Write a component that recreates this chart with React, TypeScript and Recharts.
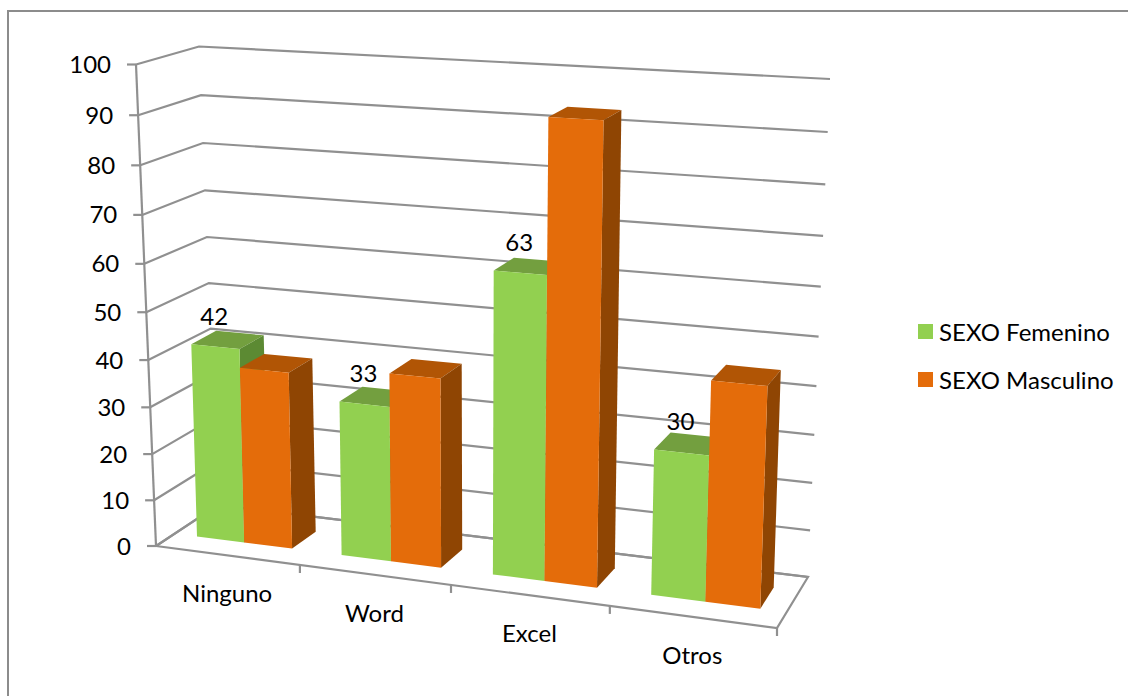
import React from "react";
import { BarChart, Bar, XAxis, YAxis, CartesianGrid, Legend, LabelList } from "recharts";

const categories = ["Ninguno", "Word", "Excel", "Otros"];
const femenino = [42, 33, 63, 30];
const masculino = [38, 40, 94, 45];
const yTicks = [0, 10, 20, 30, 40, 50, 60, 70, 80, 90, 100];
const seriesNames = ["SEXO Femenino", "SEXO Masculino"];

const data = categories.map((name, i) => ({ name, fem: femenino[i], mas: masculino[i] }));

const WIDTH = 1128;
const HEIGHT = 696;
const AXIS_W = 60;
const AXIS_H = 40;
const margin = { left: 76, right: 328, top: 64, bottom: 110 };
const PL = margin.left + AXIS_W;
const PT = margin.top;
const PW = WIDTH - margin.left - margin.right - AXIS_W;
const PH = HEIGHT - margin.top - margin.bottom - AXIS_H;

type Pt = [number, number];

// Projective map of the unit square onto a quad: (0,0) (1,0) (1,1) (0,1)
function plane(p0: Pt, p1: Pt, p2: Pt, p3: Pt) {
  const dx1 = p1[0] - p2[0], dx2 = p3[0] - p2[0], sx = p0[0] - p1[0] + p2[0] - p3[0];
  const dy1 = p1[1] - p2[1], dy2 = p3[1] - p2[1], sy = p0[1] - p1[1] + p2[1] - p3[1];
  const den = dx1 * dy2 - dx2 * dy1;
  const g = (sx * dy2 - dx2 * sy) / den;
  const h = (dx1 * sy - sx * dy1) / den;
  const a = p1[0] - p0[0] + g * p1[0], b = p3[0] - p0[0] + h * p3[0], c = p0[0];
  const d = p1[1] - p0[1] + g * p1[1], e = p3[1] - p0[1] + h * p3[1], f = p0[1];
  return (u: number, v: number): Pt => {
    const w = g * u + h * v + 1;
    return [(a * u + b * v + c) / w, (d * u + e * v + f) / w];
  };
}

const frontWall = plane([156, 546], [777, 628], [796, 98], [136, 64.5]);
const backWall = plane([218, 505], [808, 577], [830, 79], [199, 46.5]);
const barFront = plane([173.5, 533.4], [789, 612.5], [807, 100], [158.4, 64]);
const barBack = plane([198.5, 517.4], [801.5, 591], [819.5, 90.5], [183.4, 54]);

const toU = (x: number) => (x - PL) / PW;
const toV = (y: number) => (PT + PH - y) / PH;
const pts = (list: Pt[]) => list.map((p) => `${p[0].toFixed(1)},${p[1].toFixed(1)}`).join(" ");

const GRID = "#909090";
const LINE = 2.2;
const FONT = "Lato, Carlito, sans-serif";
const FONT_SIZE = 24;

function GridLine(props: any) {
  const v = toV(props.y1);
  const isFloor = Math.abs(v) < 0.001;
  return (
    <g key={props.key}>
      {isFloor && (
        <polygon
          points={pts([frontWall(0, 0), frontWall(1, 0), backWall(1, 0), backWall(0, 0)])}
          fill="#fff"
          stroke={GRID}
          strokeWidth={LINE}
        />
      )}
      {isFloor && (
        <polyline points={pts([frontWall(0, 0), frontWall(0, 1)])} fill="none" stroke={GRID} strokeWidth={LINE} />
      )}
      <polyline
        points={pts([frontWall(0, v), backWall(0, v), backWall(1, v)])}
        fill="none"
        stroke={GRID}
        strokeWidth={LINE}
      />
    </g>
  );
}

function YTick(props: any) {
  const v = props.payload.value / 100;
  const [x, y] = frontWall(0, v);
  return (
    <g>
      <line x1={x - 9} y1={y} x2={x} y2={y} stroke={GRID} strokeWidth={LINE} />
      <text x={x - 25} y={y + 8.5} textAnchor="end" fontFamily={FONT} fontSize={FONT_SIZE} fill="#000">
        {props.payload.value}
      </text>
    </g>
  );
}

function XTick(props: any) {
  const u = toU(props.x);
  const [lx, ly] = frontWall(u, 0);
  const [tx, ty] = frontWall(u + 0.125, 0);
  return (
    <g>
      <line x1={tx} y1={ty} x2={tx} y2={ty + 8} stroke={GRID} strokeWidth={LINE} />
      <text x={lx} y={ly + 47} textAnchor="middle" fontFamily={FONT} fontSize={FONT_SIZE} fill="#000">
        {props.payload.value}
      </text>
    </g>
  );
}

function box(front: string, top: string, side: string) {
  return (props: any) => {
    const { x, y, width, height } = props;
    const u1 = toU(x);
    const u2 = toU(x + width);
    const v1 = toV(y);
    const v0 = toV(y + height);
    return (
      <g>
        <polygon points={pts([barFront(u1, v1), barFront(u2, v1), barBack(u2, v1), barBack(u1, v1)])} fill={top} />
        <polygon points={pts([barFront(u2, v0), barBack(u2, v0), barBack(u2, v1), barFront(u2, v1)])} fill={side} />
        <polygon points={pts([barFront(u1, v0), barFront(u2, v0), barFront(u2, v1), barFront(u1, v1)])} fill={front} />
      </g>
    );
  };
}

function BarValue(props: any) {
  const { x, y, width, value } = props;
  const [px, py] = barFront(toU(x + width / 2), toV(y));
  return (
    <text x={px - 1} y={py - 22} textAnchor="middle" fontFamily={FONT} fontSize={FONT_SIZE} fill="#000">
      {value}
    </text>
  );
}

function LegendBox(props: any) {
  return (
    <div style={{ fontFamily: FONT, fontSize: FONT_SIZE, color: "#000" }}>
      {(props.payload || []).map((item: any) => (
        <div key={item.value} style={{ display: "flex", alignItems: "center", height: 48, whiteSpace: "nowrap" }}>
          <span style={{ width: 15, height: 15, background: item.color, marginRight: 6, display: "inline-block" }} />
          {item.value}
        </div>
      ))}
    </div>
  );
}

export default function App() {
  return (
    <div style={{ position: "fixed", left: 0, top: 0, width: WIDTH, height: HEIGHT, overflow: "hidden", background: "#fff" }}>
      <div
        style={{
          position: "absolute",
          left: 7,
          top: 10,
          width: 1300,
          height: 900,
          borderLeft: "2px solid #8c8c8c",
          borderTop: "2px solid #8c8c8c",
        }}
      />
      <div style={{ position: "absolute", left: 0, top: 0 }}>
        <BarChart width={WIDTH} height={HEIGHT} data={data} margin={margin} barCategoryGap="16.67%" barGap={0}>
          <CartesianGrid vertical={false} horizontal={(p: any) => <GridLine {...p} />} />
          <XAxis dataKey="name" height={AXIS_H} axisLine={false} tickLine={false} tick={(p: any) => <XTick {...p} />} interval={0} />
          <YAxis width={AXIS_W} domain={[0, 100]} ticks={yTicks} axisLine={false} tickLine={false} tick={(p: any) => <YTick {...p} />} interval={0} />
          <Legend
            layout="vertical"
            align="center"
            verticalAlign="middle"
            wrapperStyle={{ left: 918, top: 307, width: 205, transform: "none" }}
            content={(p: any) => <LegendBox {...p} />}
          />
          <Bar dataKey="fem" name={seriesNames[0]} fill="#92D050" isAnimationActive={false} shape={box("#92D050", "#739F3F", "#5C8A33")}>
            <LabelList dataKey="fem" content={(p: any) => <BarValue {...p} />} />
          </Bar>
          <Bar dataKey="mas" name={seriesNames[1]} fill="#E46C0A" isAnimationActive={false} shape={box("#E46C0A", "#B15505", "#8F4503")} />
        </BarChart>
      </div>
    </div>
  );
}
